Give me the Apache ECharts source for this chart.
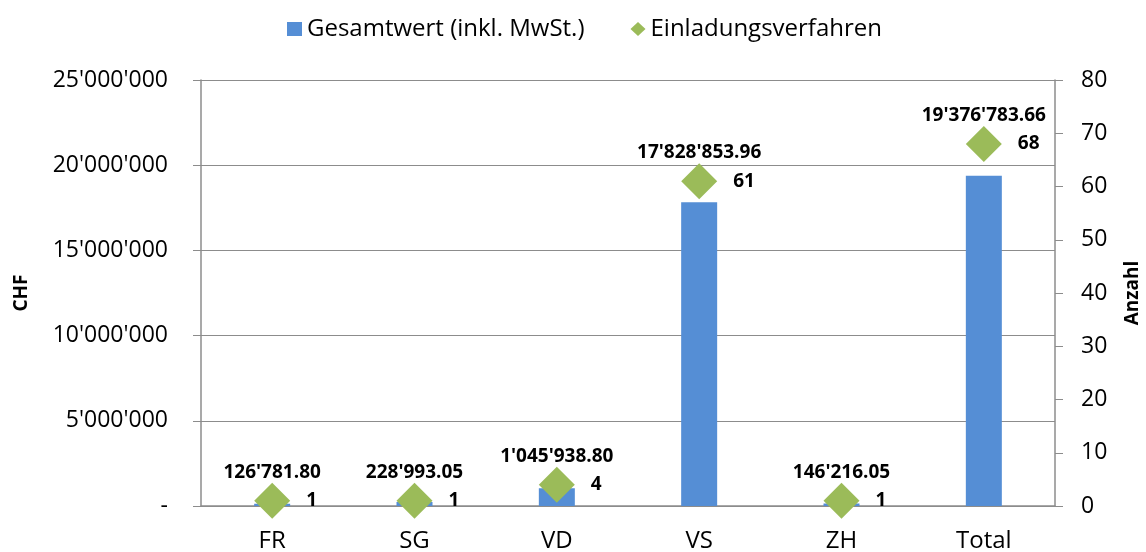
<!DOCTYPE html>
<html>
<head>
<meta charset="utf-8">
<script src="https://cdn.jsdelivr.net/npm/echarts@6/dist/echarts.min.js"></script>
<style>
  html, body { margin: 0; padding: 0; background: #fff; }
  #main { width: 1146px; height: 552px; }
</style>
</head>
<body>
<div id="main"></div>
<script>
var categories = ['FR', 'SG', 'VD', 'VS', 'ZH', 'Total'];
var gesamtwert = [126781.80, 228993.05, 1045938.80, 17828853.96, 146216.05, 19376783.66];
var einladung = [1, 1, 4, 61, 1, 68];

// 1'234'567.89 style
function chf(v, dec) {
  var parts = v.toFixed(dec).split('.');
  var s = parts[0].replace(/\B(?=(\d{3})+(?!\d))/g, "'");
  return parts.length > 1 ? s + '.' + parts[1] : s;
}

var font = 'Open Sans';
var grey = '#8c8c8c';
var myChart = echarts.init(document.getElementById('main'));

myChart.setOption({
  animation: false,
  textStyle: { fontFamily: font },
  legend: {
    top: 12,
    left: 282,
    itemGap: 46,
    itemWidth: 15,
    itemHeight: 14,
    textStyle: { fontFamily: font, fontSize: 24, color: '#000' },
    data: [
      { name: 'Gesamtwert (inkl. MwSt.)', icon: 'rect' },
      { name: 'Einladungsverfahren', icon: 'diamond' }
    ]
  },
  grid: { left: 201, right: 91, top: 80, bottom: 46, outerBoundsMode: 'none' },
  xAxis: {
    type: 'category',
    data: categories,
    axisLine: { lineStyle: { color: grey, width: 1.5 } },
    axisTick: { show: false },
    axisLabel: { fontFamily: font, fontSize: 24, color: '#000', margin: 23 }
  },
  yAxis: [{
    type: 'value',
    min: 0,
    max: 25000000,
    interval: 5000000,
    name: 'CHF',
    nameLocation: 'middle',
    nameGap: 170,
    nameRotate: 90,
    nameTextStyle: { fontFamily: font, fontSize: 19, fontWeight: 'bold', color: '#000' },
    axisLine: { show: true, lineStyle: { color: grey, width: 1.5 } },
    axisTick: { show: true, inside: false, length: 8, lineStyle: { color: grey } },
    splitLine: { show: true, lineStyle: { color: grey, width: 1.2 } },
    axisLabel: {
      fontFamily: font, fontSize: 23, color: '#000', margin: 33,
      formatter: function (v) { return v === 0 ? '-' : chf(v, 0); }
    }
  }, {
    type: 'value',
    min: 0,
    max: 80,
    interval: 10,
    name: 'Anzahl',
    nameLocation: 'middle',
    nameGap: 68,
    nameRotate: 90,
    nameTextStyle: { fontFamily: font, fontSize: 19, fontWeight: 'bold', color: '#000' },
    axisLine: { show: true, lineStyle: { color: grey, width: 1.5 } },
    axisTick: { show: true, inside: false, length: 8, lineStyle: { color: grey } },
    splitLine: { show: false },
    axisLabel: { fontFamily: font, fontSize: 23, color: '#000', margin: 26 }
  }],
  series: [{
    name: 'Gesamtwert (inkl. MwSt.)',
    type: 'bar',
    yAxisIndex: 0,
    barWidth: 36,
    itemStyle: { color: '#558ed5' },
    data: gesamtwert
  }, {
    // transparent twin carrying the CHF labels above the diamonds
    name: 'Gesamtwert label',
    type: 'scatter',
    yAxisIndex: 1,
    symbol: 'diamond',
    symbolSize: 36,
    itemStyle: { color: 'rgba(0,0,0,0)', opacity: 1 },
    silent: true,
    z: 3,
    label: {
      show: true,
      position: 'top',
      distance: 1,
      fontFamily: font,
      fontSize: 19,
      fontWeight: 'bold',
      color: '#000',
      formatter: function (p) { return chf(gesamtwert[p.dataIndex], 2); }
    },
    data: einladung
  }, {
    name: 'Einladungsverfahren',
    type: 'scatter',
    yAxisIndex: 1,
    symbol: 'diamond',
    symbolSize: 36,
    itemStyle: { color: '#9bbb59', opacity: 1 },
    z: 4,
    label: {
      show: true,
      position: 'right',
      distance: 16,
      fontFamily: font,
      fontSize: 19,
      fontWeight: 'bold',
      color: '#000'
    },
    data: einladung
  }]
});
</script>
</body>
</html>
